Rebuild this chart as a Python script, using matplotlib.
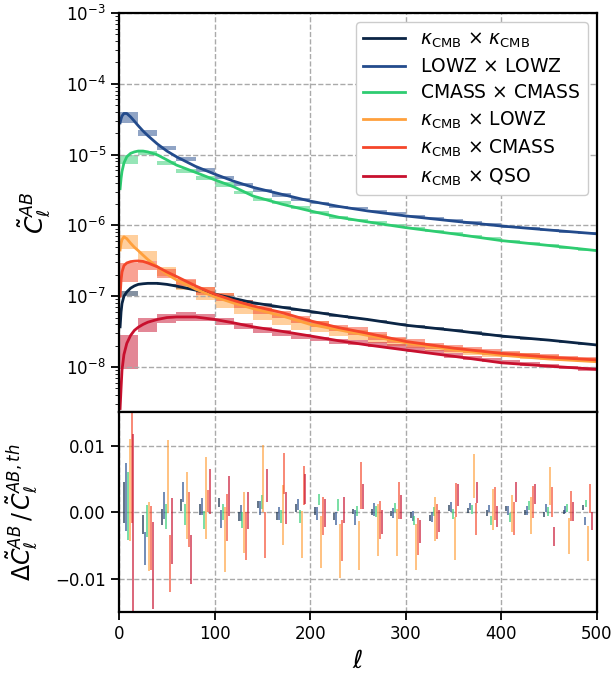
import numpy as np
import matplotlib
matplotlib.use('Agg')
import matplotlib.pyplot as plt

# theory curves
ell = [1, 2, 3, 5, 8, 12, 16, 20, 25, 30, 40, 50, 60, 80, 100, 120, 140, 170,
       200, 230, 260, 300, 350, 400, 450, 500]
cl_kk = [3.7e-8, 6e-8, 7.9e-8, 1.0e-7, 1.15e-7, 1.3e-7, 1.4e-7, 1.47e-7, 1.5e-7, 1.52e-7,
         1.52e-7, 1.47e-7, 1.39e-7, 1.22e-7, 1.07e-7, 9.3e-8, 8.1e-8, 7.0e-8, 6.1e-8,
         5.3e-8, 4.7e-8, 3.9e-8, 3.3e-8, 2.74e-8, 2.4e-8, 2.05e-8]
cl_lowz = [2.8e-5, 3.2e-5, 3.5e-5, 3.8e-5, 3.8e-5, 3.4e-5, 2.95e-5, 2.55e-5, 2.15e-5, 1.85e-5,
           1.41e-5, 1.12e-5, 9.3e-6, 6.8e-6, 5.3e-6, 4.2e-6, 3.45e-6, 2.75e-6, 2.2e-6,
           1.85e-6, 1.6e-6, 1.36e-6, 1.15e-6, 9.8e-7, 8.6e-7, 7.6e-7]
cl_cmass = [3.3e-6, 4.6e-6, 5.8e-6, 7.6e-6, 9.3e-6, 1.04e-5, 1.09e-5, 1.12e-5, 1.12e-5, 1.09e-5,
            9.9e-6, 8.4e-6, 7.1e-6, 5.6e-6, 4.4e-6, 3.5e-6, 2.6e-6, 2.0e-6, 1.6e-6,
            1.3e-6, 1.12e-6, 9.3e-7, 7.6e-7, 6.1e-7, 5.2e-7, 4.4e-7]
cl_klowz = [4.5e-7, 5.6e-7, 6.3e-7, 6.9e-7, 6.5e-7, 5.6e-7, 4.9e-7, 4.4e-7, 3.8e-7, 3.3e-7,
            2.6e-7, 2.05e-7, 1.7e-7, 1.26e-7, 9.8e-8, 8.0e-8, 6.7e-8, 5.3e-8, 4.0e-8,
            3.35e-8, 2.8e-8, 2.2e-8, 1.75e-8, 1.47e-8, 1.3e-8, 1.19e-8]
cl_kcmass = [1e-7, 1.7e-7, 2.2e-7, 2.7e-7, 2.95e-7, 3.08e-7, 3.13e-7, 3.15e-7, 3.1e-7, 2.95e-7,
             2.6e-7, 2.2e-7, 1.9e-7, 1.4e-7, 1.07e-7, 8.7e-8, 7.3e-8, 5.9e-8, 4.5e-8,
             3.6e-8, 3.0e-8, 2.3e-8, 1.85e-8, 1.56e-8, 1.38e-8, 1.26e-8]
cl_kqso = [2.6e-9, 5e-9, 9.1e-9, 1.5e-8, 2.16e-8, 2.8e-8, 3.3e-8, 3.65e-8, 4.0e-8, 4.3e-8,
           4.7e-8, 5.0e-8, 5.1e-8, 5.1e-8, 4.7e-8, 4.2e-8, 3.7e-8, 3.2e-8, 2.75e-8,
           2.35e-8, 2.05e-8, 1.74e-8, 1.42e-8, 1.15e-8, 1.03e-8, 9.3e-9]

# binned boxes (upper / lower edge per 20-wide bin)
bin_lo_edge = [0, 20, 40, 60, 80, 100, 120, 140, 160, 180, 200, 220, 240, 260, 280,
               300, 320, 340, 360, 380, 400, 420, 440, 460, 480]
kk_hi = [1.17e-7, 1.56e-7, 1.50e-7, 1.34e-7, 1.18e-7, 1.03e-7, 8.9e-8, 7.9e-8, 7.2e-8, 6.6e-8,
         5.95e-8, 5.45e-8, 5.0e-8, 4.6e-8, 4.2e-8, 3.9e-8, 3.65e-8, 3.4e-8, 3.18e-8, 2.93e-8,
         2.72e-8, 2.57e-8, 2.44e-8, 2.28e-8, 2.15e-8]
kk_lo = [1.02e-7, 1.48e-7, 1.44e-7, 1.28e-7, 1.12e-7, 9.7e-8, 8.5e-8, 7.5e-8, 6.8e-8, 6.2e-8,
         5.65e-8, 5.15e-8, 4.8e-8, 4.4e-8, 4.0e-8, 3.7e-8, 3.45e-8, 3.22e-8, 3.02e-8, 2.78e-8,
         2.58e-8, 2.43e-8, 2.32e-8, 2.16e-8, 2.05e-8]
lowz_hi = [3.95e-5, 2.22e-5, 1.32e-5, 9.3e-6, 6.4e-6, 5.0e-6, 4.0e-6, 3.27e-6, 2.84e-6, 2.42e-6,
           2.16e-6, 1.9e-6, 1.8e-6, 1.65e-6, 1.53e-6, 1.40e-6, 1.30e-6, 1.23e-6, 1.14e-6,
           1.07e-6, 9.9e-7, 9.4e-7, 8.9e-7, 8.35e-7, 7.95e-7]
lowz_lo = [2.82e-5, 1.85e-5, 1.16e-5, 8.2e-6, 5.7e-6, 4.5e-6, 3.6e-6, 2.99e-6, 2.55e-6, 2.21e-6,
           2.0e-6, 1.75e-6, 1.68e-6, 1.55e-6, 1.43e-6, 1.32e-6, 1.22e-6, 1.15e-6, 1.06e-6,
           1.01e-6, 9.3e-7, 8.8e-7, 8.3e-7, 7.85e-7, 7.45e-7]
cmass_hi = [9.9e-6, 1.12e-5, 8.1e-6, 6.2e-6, 5.0e-6, 4.06e-6, 3.06e-6, 2.47e-6, 2.21e-6, 1.88e-6,
            1.61e-6, 1.36e-6, 1.23e-6, 1.15e-6, 1.04e-6, 9.6e-7, 8.7e-7, 7.95e-7, 7.35e-7,
            6.8e-7, 6.3e-7, 5.8e-7, 5.4e-7, 5.0e-7, 4.65e-7]
cmass_lo = [7.4e-6, 9.7e-6, 7.1e-6, 5.45e-6, 4.4e-6, 3.52e-6, 2.75e-6, 2.23e-6, 1.99e-6, 1.71e-6,
            1.45e-6, 1.23e-6, 1.15e-6, 1.07e-6, 9.8e-7, 9.0e-7, 8.1e-7, 7.45e-7, 6.85e-7,
            6.4e-7, 5.9e-7, 5.4e-7, 5.08e-7, 4.68e-7, 4.35e-7]
klowz_hi = [7.3e-7, 4.4e-7, 2.57e-7, 1.7e-7, 1.36e-7, 1.1e-7, 8.3e-8, 6.8e-8, 5.4e-8, 5.0e-8,
            4.5e-8, 3.7e-8, 3.3e-8, 2.93e-8, 2.54e-8, 2.29e-8, 2.04e-8, 1.9e-8, 1.78e-8,
            1.7e-8, 1.63e-8, 1.56e-8, 1.48e-8, 1.4e-8, 1.35e-8]
klowz_lo = [4.6e-7, 3.1e-7, 1.9e-7, 1.23e-7, 8.9e-8, 6.9e-8, 5.7e-8, 4.6e-8, 3.9e-8, 3.3e-8,
            3.15e-8, 2.75e-8, 2.4e-8, 2.16e-8, 1.99e-8, 1.83e-8, 1.7e-8, 1.56e-8, 1.48e-8,
            1.4e-8, 1.37e-8, 1.29e-8, 1.27e-8, 1.22e-8, 1.17e-8]
kcmass_hi = [2.92e-7, 3.16e-7, 2.4e-7, 1.74e-7, 1.36e-7, 1.12e-7, 8.8e-8, 7.2e-8, 6.2e-8, 5.25e-8,
             4.5e-8, 3.9e-8, 3.7e-8, 3.16e-8, 2.7e-8, 2.46e-8, 2.2e-8, 2.04e-8, 1.9e-8,
             1.78e-8, 1.68e-8, 1.6e-8, 1.51e-8, 1.43e-8, 1.37e-8]
kcmass_lo = [1.6e-7, 2.34e-7, 1.78e-7, 1.39e-7, 1.04e-7, 8.5e-8, 6.9e-8, 5.7e-8, 4.9e-8, 4.2e-8,
             3.7e-8, 3.23e-8, 2.8e-8, 2.4e-8, 2.16e-8, 1.95e-8, 1.78e-8, 1.65e-8, 1.56e-8,
             1.46e-8, 1.4e-8, 1.35e-8, 1.28e-8, 1.23e-8, 1.19e-8]
kqso_hi = [2.8e-8, 4.9e-8, 5.6e-8, 5.9e-8, 5.6e-8, 5.0e-8, 4.2e-8, 3.63e-8, 3.3e-8, 2.93e-8,
           2.7e-8, 2.5e-8, 2.38e-8, 2.25e-8, 2.1e-8, 1.94e-8, 1.74e-8, 1.56e-8, 1.43e-8,
           1.33e-8, 1.26e-8, 1.17e-8, 1.1e-8, 1.03e-8, 1.0e-8]
kqso_lo = [9.3e-9, 3.16e-8, 4.2e-8, 4.5e-8, 4.4e-8, 3.9e-8, 3.44e-8, 3.05e-8, 2.75e-8, 2.46e-8,
           2.3e-8, 2.15e-8, 2.02e-8, 1.92e-8, 1.8e-8, 1.64e-8, 1.51e-8, 1.33e-8, 1.26e-8,
           1.17e-8, 1.1e-8, 1.03e-8, 9.8e-9, 9.3e-9, 8.9e-9]

# residuals, bottom panel (top / bottom of each bar)
kk_res_hi = [0.0046, -0.0004, 0.00045, 0.002, 0.0012, 0.0021, 0.0, 0.00175, 0.0, 0.0012, 0.0007,
             -0.00015, 0.0005, 0.00045, 0.0002, 0.0, -0.0005, 0.001, 0.0006, 0.00025, 0.00085,
             0.00025, 0.0, 0.00035, 0.001]
kk_res_lo = [-0.00165, -0.0033, -0.0019, 0.0001, -0.0004, 0.0007, -0.0014, 0.0006, -0.00115, 0.0,
             -0.0004, -0.00125, -0.0003, -0.0004, -0.00065, -0.0009, -0.0013, 0.0002, -0.00015,
             -0.00055, 0.0001, -0.0005, -0.0008, -0.0003, 0.00035]
lowz_res_hi = [0.00735, -0.003, 0.003, 0.0046, 0.0022, 0.0003, 0.001, 0.0016, 0.00075, 0.002,
               0.00075, 0.0, 0.00035, 0.00135, 0.0006, 0.0001, 0.0, 0.0015, 0.00135, 0.0011,
               0.00085, 0.00085, 0.0012, 0.00095, -0.00075]
lowz_res_lo = [-0.0029, -0.008, -0.001, 0.00145, -0.0004, -0.0024, -0.0014, -0.0004, -0.00125,
               0.00035, -0.00115, -0.002, -0.002, -0.00055, -0.0009, -0.0014, -0.0015, 0.0,
               0.00035, 0.0, -0.0004, -0.0004, 0.0, -0.00015, -0.0019]
cmass_res_hi = [0.006, 0.001, 0.0012, 0.00125, 0.0002, 0.00125, 0.0, 0.0026, 0.00025, 0.00035,
                0.0028, 0.002, 0.00085, 0.00095, 0.00135, -0.00055, 0.00075, 0.00045, 0.001,
                -0.00055, -0.00015, 0.00175, 0.00075, 0.0012, 0.00185]
cmass_res_lo = [-0.0042, -0.00375, -0.0026, -0.002, -0.0025, -0.00125, -0.0024, 0.00045,
                -0.00165, -0.0016, 0.001, 0.0002, -0.00065, -0.00075, 0.0, -0.002, -0.00065,
                -0.001, -0.0003, -0.0019, -0.0015, 0.00035, -0.00055, 0.0, 0.00075]
klowz_res_hi = [0.011, 0.00145, 0.0108, 0.006, 0.0083, 0.00075, 0.003, 0.0101, 0.0041, 0.0002,
                -0.00055, -0.0018, -0.0014, 0.0012, 0.00045, -0.0018, 0.00225, -0.00075, 0.0087,
                0.00345, 0.0026, 0.00235, 0.00675, -0.0009, -0.00215]
klowz_res_lo = [-0.0044, -0.0089, -0.00015, -0.004, -0.0041, -0.009, -0.0062, 0.0, -0.0049,
                -0.0069, -0.0084, -0.0099, -0.0087, -0.00655, -0.00655, -0.00875, -0.0043,
                -0.00725, 0.0021, -0.00265, -0.003, -0.0033, 0.0011, -0.0063, -0.0073]
kcmass_res_hi = [0.016, 0.00085, -0.0035, 0.003, 0.0033, 0.0027, 0.0, 0.0, 0.00885, 0.007,
                 0.00225, -0.00115, 0.0075, 0.00175, 0.0045, -0.0009, 0.0012, 0.00435, 0.00135,
                 0.00375, 0.00145, 0.004, 0.00385, 0.00325, 0.00425]
kcmass_res_lo = [-0.00165, -0.00875, -0.012, -0.0053, 0.0, -0.0043, -0.0072, -0.0069, 0.0027,
                 0.0011, -0.0034, -0.0073, 0.0005, -0.004, -0.001, -0.0064, -0.0041, -0.0008,
                 -0.0034, -0.00125, -0.0034, -0.0009, -0.0008, -0.0014, -0.00015]
kqso_res_hi = [0.0118, -0.00155, 0.0022, -0.0034, 0.0065, 0.0055, 0.003, 0.0065, 0.003, 0.0057,
               0.002, 0.00235, 0.0042, 0.00035, 0.0026, -0.00115, 0.00035, 0.0042, 0.0046,
               0.00095, 0.0045, 0.0042, -0.00225, 0.00145, 0.0]
kqso_res_lo = [-0.016, -0.0145, -0.0078, -0.0108, -0.0003, -0.00055, -0.0025, 0.00145, -0.0018,
               0.00125, -0.0023, -0.00165, 0.00045, -0.0033, -0.001, -0.00465, -0.003, 0.00095,
               0.00135, -0.00225, 0.00145, 0.00125, -0.00515, -0.0014, -0.00265]

labels = [r'$\kappa_{\rm CMB}$ $\times$ $\kappa_{\rm CMB}$', r'LOWZ $\times$ LOWZ',
          r'CMASS $\times$ CMASS', r'$\kappa_{\rm CMB}$ $\times$ LOWZ',
          r'$\kappa_{\rm CMB}$ $\times$ CMASS', r'$\kappa_{\rm CMB}$ $\times$ QSO']
colors = ['#0b2545', '#234b8c', '#2ecc71', '#ffa03c', '#f5462a', '#c8102e']

curves = [cl_kk, cl_lowz, cl_cmass, cl_klowz, cl_kcmass, cl_kqso]
box_hi = [kk_hi, lowz_hi, cmass_hi, klowz_hi, kcmass_hi, kqso_hi]
box_lo = [kk_lo, lowz_lo, cmass_lo, klowz_lo, kcmass_lo, kqso_lo]
res_hi = [kk_res_hi, lowz_res_hi, cmass_res_hi, klowz_res_hi, kcmass_res_hi, kqso_res_hi]
res_lo = [kk_res_lo, lowz_res_lo, cmass_res_lo, klowz_res_lo, kcmass_res_lo, kqso_res_lo]
offsets = [-5, -3, -1, 1, 3, 5]

plt.rcParams['axes.linewidth'] = 1.6
plt.rcParams['xtick.major.width'] = 1.3
plt.rcParams['ytick.major.width'] = 1.3
plt.rcParams['xtick.major.size'] = 6
plt.rcParams['ytick.major.size'] = 6
plt.rcParams['ytick.minor.size'] = 3

fig = plt.figure(figsize=(6.11, 6.77), dpi=100)
gs = fig.add_gridspec(2, 1, height_ratios=[2, 1], hspace=0.0,
                      left=0.195, right=0.977, top=0.981, bottom=0.096)
ax = fig.add_subplot(gs[0])
ax2 = fig.add_subplot(gs[1], sharex=ax)

width = 20
centers = np.array(bin_lo_edge) + width / 2
for i in range(6):
    hi = np.array(box_hi[i])
    lo = np.array(box_lo[i])
    ax.bar(bin_lo_edge, hi - lo, bottom=lo, width=width, align='edge',
           color=colors[i], alpha=0.5, linewidth=0)
for i in range(6):
    ax.plot(ell, curves[i], color=colors[i], lw=2, label=labels[i])

ax.set_yscale('log')
ax.set_ylim(2.3e-9, 1e-3)
ax.set_xlim(0, 500)
ax.set_ylabel(r'$\tilde{C}_\ell^{AB}$', fontsize=18)
ax.yaxis.set_label_coords(-0.14, 0.5)
ax.grid(True, which='major', ls='--', color='#aaaaaa', lw=1)
ax.tick_params(labelbottom=False, labelsize=12)
ax.legend(loc='upper right', fontsize=13.5, framealpha=1, handlelength=2.2,
          labelspacing=0.38)

for i in range(6):
    ax2.vlines(centers + offsets[i], res_lo[i], res_hi[i], color=colors[i],
               lw=1.2, alpha=0.75)
ax2.set_ylim(-0.015, 0.015)
ax2.set_yticks([-0.01, 0.0, 0.01])
ax2.set_yticklabels(['\u22120.01', '0.00', '0.01'])
ax2.set_xticks([0, 100, 200, 300, 400, 500])
ax2.grid(True, ls='--', color='#aaaaaa', lw=1)
ax2.tick_params(labelsize=12)
ax2.set_xlabel(r'$\ell$', fontsize=18)
ax2.set_ylabel(r'$\Delta\tilde{C}_\ell^{AB}\,/\,\tilde{C}_\ell^{AB,th}$', fontsize=17)
ax2.yaxis.set_label_coords(-0.165, 0.5)

fig.savefig('out.png', dpi=100)
